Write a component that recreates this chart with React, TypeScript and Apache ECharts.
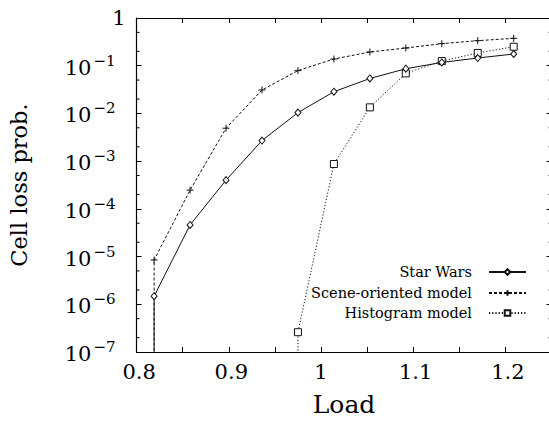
import React, { useEffect, useRef } from "react";
import * as echarts from "echarts";

// Load values (x)
const loads = [0.819, 0.858, 0.897, 0.936, 0.975, 1.014, 1.053, 1.092, 1.131, 1.17, 1.209];
// Cell loss probabilities
const starWars = [1.48e-6, 4.6e-5, 4.0e-4, 2.7e-3, 1.04e-2, 2.85e-2, 5.4e-2, 8.65e-2, 0.117, 0.145, 0.176];
const sceneOriented = [8.5e-6, 2.47e-4, 4.9e-3, 3.1e-2, 7.9e-2, 0.138, 0.194, 0.235, 0.29, 0.335, 0.375];
const histogramLoads = [0.975, 1.014, 1.053, 1.092, 1.131, 1.17, 1.209];
const histogram = [2.6e-7, 8.7e-4, 1.34e-2, 6.9e-2, 0.125, 0.185, 0.25];
// value that is off the chart (zero loss) — lines drop to the bottom edge
const zeroLoss = 1e-12;
const seriesNames = ["Star Wars", "Scene-oriented model", "Histogram model"];
const minorTickValues: number[] = [];
for (let e = -7; e < 0; e++) {
  minorTickValues.push(2 * Math.pow(10, e), 5 * Math.pow(10, e));
}

const FONT = "DejaVu Serif";
const INK = "#111";

export default function App() {
  const ref = useRef<HTMLDivElement>(null);
  useEffect(() => {
    if (!ref.current) return;
    const chart = echarts.init(ref.current, null, { renderer: "svg" });
    const xMin = 0.8;
    const xMax = 1.25;
    const hollow = { color: "#fff", borderColor: INK, borderWidth: 1 };
    const legendBase = (name: string, top: number) => ({
      data: [name],
      right: 22,
      top,
      orient: "horizontal",
      align: "right",
      itemWidth: 37,
      itemHeight: 7,
      itemGap: 0,
      padding: 0,
      selectedMode: false,
      textStyle: { fontFamily: FONT, fontSize: 14.5, color: "#000", padding: [0, 12, 0, 0] },
    });
    const option: any = {
      animation: false,
      backgroundColor: "#fff",
      grid: { left: 136.6, top: 18, width: 414.9, height: 334, containLabel: false, outerBoundsMode: "none" },
      legend: [
        legendBase(seriesNames[0], 264.5),
        legendBase(seriesNames[1], 285.5),
        legendBase(seriesNames[2], 305.5),
      ],
      xAxis: [
        {
          type: "value",
          min: xMin,
          max: xMax,
          interval: 0.05,
          position: "bottom",
          name: "Load",
          nameLocation: "middle",
          nameGap: 40,
          nameTextStyle: { fontFamily: FONT, fontSize: 25, color: "#000" },
          axisLine: { show: true, lineStyle: { color: "#000", width: 1.2 } },
          axisTick: { show: true, inside: true, length: 5, lineStyle: { color: "#000" } },
          splitLine: { show: false },
          axisLabel: {
            margin: 9,
            fontFamily: FONT,
            fontSize: 21,
            color: "#000",
            showMaxLabel: false,
            formatter: (v: number) => {
              const r = Math.round(v * 100);
              if (r % 10 !== 0) return "";
              const s = String(parseFloat(v.toFixed(2)));
              return s.indexOf(".") >= 0 ? `{d|${s}}` : s;
            },
            rich: { d: { fontFamily: FONT, fontSize: 21, color: "#000", padding: [0, 0, 0, 5] } },
          },
        },
        {
          type: "value",
          min: xMin,
          max: xMax,
          interval: 0.05,
          position: "top",
          axisLine: { show: true, lineStyle: { color: "#000", width: 1.2 } },
          axisTick: { show: true, inside: true, length: 5, lineStyle: { color: "#000" } },
          splitLine: { show: false },
          axisLabel: { show: false },
        },
      ],
      yAxis: [
        {
          type: "log",
          logBase: 10,
          min: 1e-7,
          max: 1,
          interval: 1,
          splitNumber: 7,
          position: "left",
          name: "Cell loss prob.",
          nameLocation: "middle",
          nameRotate: 90,
          nameGap: 106,
          nameTextStyle: { fontFamily: FONT, fontSize: 22.5, color: "#000" },
          axisLine: { show: true, lineStyle: { color: "#000", width: 1.2 } },
          axisTick: { show: true, inside: true, length: 5, lineStyle: { color: "#000" } },
          splitLine: { show: false },
          axisLabel: {
            margin: 11,
            fontFamily: FONT,
            fontSize: 21,
            color: "#000",
            formatter: (v: number) => {
              if (v >= 0.999) return "1";
              const e = Math.round(-Math.log10(v));
              return `{b|10}{s|\u2212${e}}`;
            },
            rich: {
              b: { fontFamily: FONT, fontSize: 21, color: "#000", lineHeight: 16, verticalAlign: "bottom" },
              s: { fontFamily: FONT, fontSize: 15, color: "#000", lineHeight: 25, verticalAlign: "top", padding: [0, 10, 0, 2] },
            },
          },
        },
        {
          type: "log",
          logBase: 10,
          min: 1e-7,
          max: 1,
          interval: 1,
          splitNumber: 7,
          position: "right",
          axisLine: { show: true, lineStyle: { color: "#000", width: 1.2 } },
          axisTick: { show: true, inside: true, length: 5, lineStyle: { color: "#000" } },
          splitLine: { show: false },
          axisLabel: { show: false },
        },
      ],
      series: [
        {
          name: seriesNames[0],
          type: "line",
          xAxisIndex: 0,
          yAxisIndex: 0,
          clip: true,
          symbol: "diamond",
          symbolSize: [6, 7],
          showAllSymbol: true,
          lineStyle: { color: INK, width: 1, type: "solid" },
          itemStyle: hollow,
          data: [[loads[0], zeroLoss], ...loads.map((x, i) => [x, starWars[i]])],
          z: 3,
        },
        {
          name: seriesNames[1],
          type: "line",
          xAxisIndex: 0,
          yAxisIndex: 0,
          clip: true,
          symbol: "path://M5 0V10M0 5H10",
          symbolSize: 7,
          showAllSymbol: true,
          lineStyle: { color: INK, width: 1, type: [3, 2] },
          itemStyle: { color: "none", borderColor: INK, borderWidth: 1 },
          data: [[loads[0], zeroLoss], ...loads.map((x, i) => [x, sceneOriented[i]])],
          z: 2,
        },
        {
          name: seriesNames[2],
          type: "line",
          xAxisIndex: 0,
          yAxisIndex: 0,
          clip: true,
          symbol: "rect",
          symbolSize: 7,
          showAllSymbol: true,
          lineStyle: { color: INK, width: 1, type: [1.2, 2] },
          itemStyle: hollow,
          data: [[histogramLoads[0], zeroLoss], ...histogramLoads.map((x, i) => [x, histogram[i]])],
          z: 2,
        },
        {
          name: "minorTicks",
          type: "custom",
          xAxisIndex: 0,
          yAxisIndex: 0,
          silent: true,
          clip: false,
          encode: { x: 0, y: 1 },
          data: minorTickValues.map((v) => [xMin, v]),
          renderItem: (_p: any, api: any) => {
            const v = api.value(1);
            const l = api.coord([xMin, v]);
            const r = api.coord([xMax, v]);
            const st = { stroke: "#000", lineWidth: 1 };
            return {
              type: "group",
              children: [
                { type: "line", shape: { x1: l[0], y1: l[1], x2: l[0] + 3, y2: l[1] }, style: st },
                { type: "line", shape: { x1: r[0] - 3, y1: r[1], x2: r[0], y2: r[1] }, style: st },
              ],
            };
          },
        },
      ],
    };
    chart.setOption(option);
    return () => chart.dispose();
  }, []);
  return (
    <div
      ref={ref}
      style={{ position: "absolute", left: 0, top: 0, width: 549, height: 421, background: "#fff" }}
    />
  );
}
